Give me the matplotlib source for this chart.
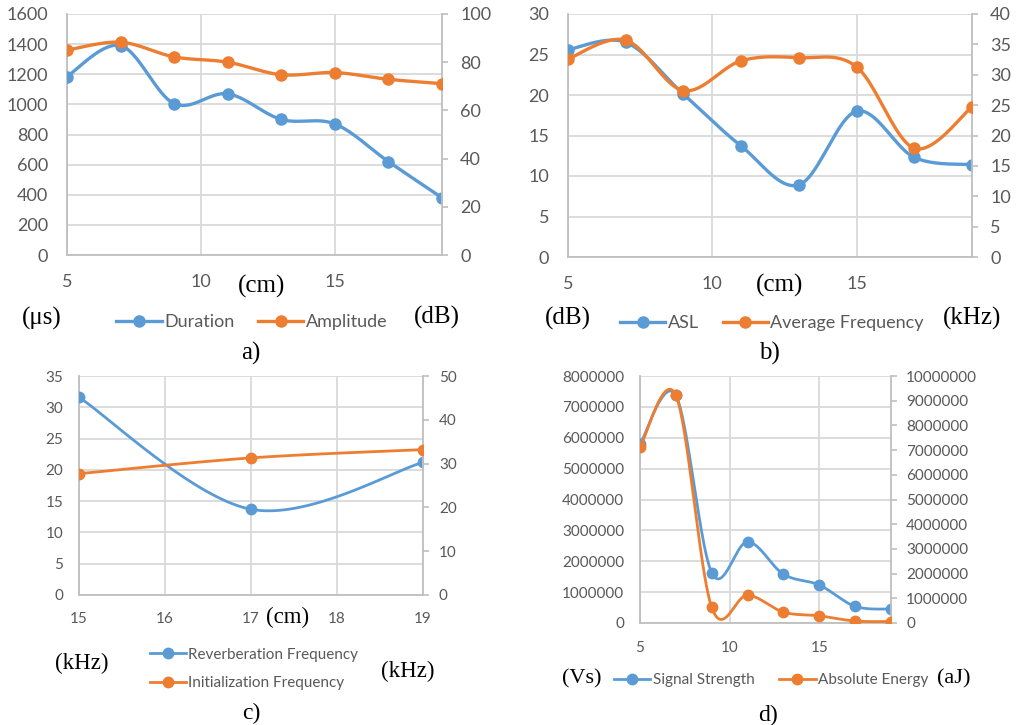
import numpy as np
import matplotlib
matplotlib.use('Agg')
import matplotlib.pyplot as plt
from matplotlib.lines import Line2D
from matplotlib.ticker import FuncFormatter, MultipleLocator

W, H = 1019, 725
BLUE = '#5B9BD5'
ORANGE = '#ED7D31'
GRID = '#D9D9D9'
SPINE = '#BFBFBF'
TXT = '#595959'
SANS = 'Lato'
SERIF = 'Liberation Serif'

# ---------------- data ----------------
dist_a = [5, 7, 9, 11, 13, 15, 17, 19]
duration = [1185, 1390, 1005, 1070, 900, 870, 620, 380]
amplitude = [85.0, 88.3, 82.2, 80.0, 74.8, 75.7, 72.9, 71.1]

dist_b = [5, 7, 9, 11, 13, 15, 17, 19]
asl = [25.6, 26.5, 20.1, 13.7, 8.9, 18.0, 12.3, 11.4]
avg_freq = [32.6, 35.7, 27.4, 32.3, 32.8, 31.3, 17.9, 24.7]

dist_c = [15, 17, 19]
reverb_freq = [31.6, 13.7, 21.2]
init_freq = [27.7, 31.3, 33.2]

dist_d = [5, 7, 9, 11, 13, 15, 17, 19]
signal_strength = [5790000, 7370000, 1630000, 2630000, 1580000, 1230000, 540000, 450000]
abs_energy = [7120000, 9220000, 630000, 1130000, 440000, 290000, 80000, 60000]


def smooth(x, y, n=40):
    """Excel-like smoothed line (Catmull-Rom as cubic Bezier)."""
    P = np.column_stack([np.asarray(x, float), np.asarray(y, float)])
    Pe = np.vstack([P[0], P, P[-1]])
    t = np.linspace(0, 1, n)[:, None]
    out = []
    for i in range(len(P) - 1):
        p0, p1, p2, p3 = Pe[i], Pe[i + 1], Pe[i + 2], Pe[i + 3]
        c1 = p1 + (p2 - p0) / 6.0
        c2 = p2 - (p3 - p1) / 6.0
        seg = ((1 - t) ** 3) * p1 + 3 * ((1 - t) ** 2) * t * c1 + 3 * (1 - t) * t ** 2 * c2 + t ** 3 * p2
        out.append(seg if i == 0 else seg[1:])
    s = np.vstack(out)
    return s[:, 0], s[:, 1]


fig = plt.figure(figsize=(W / 100, H / 100), dpi=100)


def px_axes(l, t, r, b):
    return fig.add_axes([l / W, 1 - b / H, (r - l) / W, (b - t) / H])


intfmt = FuncFormatter(lambda v, p: '%d' % round(v))


def panel(rect, x, y1, y2, xlim, xstep, ylim1, ystep1, ylim2, ystep2,
          fs, lw, ms, padx, padl, padr):
    ax = px_axes(*rect)
    ax2 = ax.twinx()
    ax.set_xlim(*xlim)
    ax.set_ylim(*ylim1)
    ax2.set_ylim(*ylim2)
    ax.xaxis.set_major_locator(MultipleLocator(xstep))
    ax.yaxis.set_major_locator(MultipleLocator(ystep1))
    ax2.yaxis.set_major_locator(MultipleLocator(ystep2))
    ax.yaxis.set_major_formatter(intfmt)
    ax2.yaxis.set_major_formatter(intfmt)
    ax.xaxis.set_major_formatter(intfmt)
    ax.grid(True, color=GRID, lw=1.3)
    ax.set_axisbelow(True)
    for a in (ax, ax2):
        for s in a.spines.values():
            s.set_visible(False)
    ax.spines['left'].set_visible(True)
    ax.spines['bottom'].set_visible(True)
    ax2.spines['right'].set_visible(True)
    for s in (ax.spines['left'], ax.spines['bottom'], ax2.spines['right']):
        s.set_color(SPINE)
        s.set_linewidth(1.3)
    ax.tick_params(axis='x', length=0, pad=padx, labelsize=fs, labelcolor=TXT)
    ax.tick_params(axis='y', length=0, pad=padl, labelsize=fs, labelcolor=TXT)
    ax2.tick_params(axis='y', length=4, width=1.2, color=SPINE, direction='out',
                    pad=padr, labelsize=fs, labelcolor=TXT)
    for a in (ax, ax2):
        for lab in a.get_xticklabels() + a.get_yticklabels():
            lab.set_family(SANS)
    sx, sy = smooth(x, y1)
    ax.plot(sx, sy, color=BLUE, lw=lw, solid_capstyle='round', zorder=3)
    ax.plot(x, y1, 'o', color=BLUE, ms=ms, zorder=4)
    sx, sy = smooth(x, y2)
    ax2.plot(sx, sy, color=ORANGE, lw=lw, solid_capstyle='round', zorder=3)
    ax2.plot(x, y2, 'o', color=ORANGE, ms=ms, zorder=4)
    return ax, ax2


def ftext(x, y, s, size):
    fig.text(x / W, 1 - y / H, s, family=SERIF, size=size, ha='center', va='center', color='black')


def legend(x, y, labels, ncol, fs, lw, ms, hl, cs, ls=0.5):
    handles = [Line2D([], [], color=c, lw=lw, marker='o', ms=ms) for c in (BLUE, ORANGE)]
    fig.legend(handles, labels, loc='center', bbox_to_anchor=(x / W, 1 - y / H),
               ncol=ncol, frameon=False, handlelength=hl, handletextpad=0.15,
               columnspacing=cs, labelspacing=ls, borderpad=0, borderaxespad=0,
               prop={'family': SANS, 'size': fs}, labelcolor=TXT, numpoints=1)


# panel a
panel((67, 14, 442, 255), dist_a, duration, amplitude, (5, 19), 5, (0, 1600), 200,
      (0, 100), 20, 13, 2.4, 8, 13.5, 13.5, 9)
ftext(262, 286, '(cm)', 18)
ftext(42, 318, '(μs)', 18)
ftext(437, 317, '(dB)', 18)
ftext(251, 353, 'a)', 18)
legend(252, 322, ['Duration', 'Amplitude'], 2, 13, 2.4, 8, 2.5, 1.3)

# panel b
panel((568, 14, 972, 257), dist_b, asl, avg_freq, (5, 19), 5, (0, 30), 5,
      (0, 40), 5, 13, 2.4, 8, 13.5, 13.5, 9)
ftext(780, 285, '(cm)', 18)
ftext(568, 318, '(dB)', 18)
ftext(972, 318, '(kHz)', 18)
ftext(769, 353, 'b)', 18)
legend(772, 323, ['ASL', 'Average Frequency'], 2, 13, 2.4, 8, 2.5, 1.3)

# panel c
panel((79, 376, 423, 595), dist_c, reverb_freq, init_freq, (15, 19), 1, (0, 35), 5,
      (0, 50), 10, 11, 2.0, 7.5, 12, 11.3, 7.5)
ftext(288, 617, '(cm)', 16.5)
ftext(82, 663, '(kHz)', 16.5)
ftext(408, 671, '(kHz)', 16.5)
ftext(251, 713, 'c)', 17)
legend(254, 669, ['Reverberation Frequency', 'Initialization Frequency'], 1, 11, 2.0, 7.5, 2.4, 1.0, 0.95)

# panel d
panel((640, 376, 891, 623), dist_d, signal_strength, abs_energy, (5, 19), 5, (0, 8000000), 1000000,
      (0, 10000000), 1000000, 11, 2.0, 7.5, 13, 11.3, 7)
ftext(582, 679, '(Vs)', 16)
ftext(954, 679, '(aJ)', 16)
ftext(768, 715, 'd)', 17)
legend(771, 680, ['Signal Strength', 'Absolute Energy'], 2, 11, 2.0, 7.5, 2.4, 1.6)

fig.savefig('out.png', dpi=100)
